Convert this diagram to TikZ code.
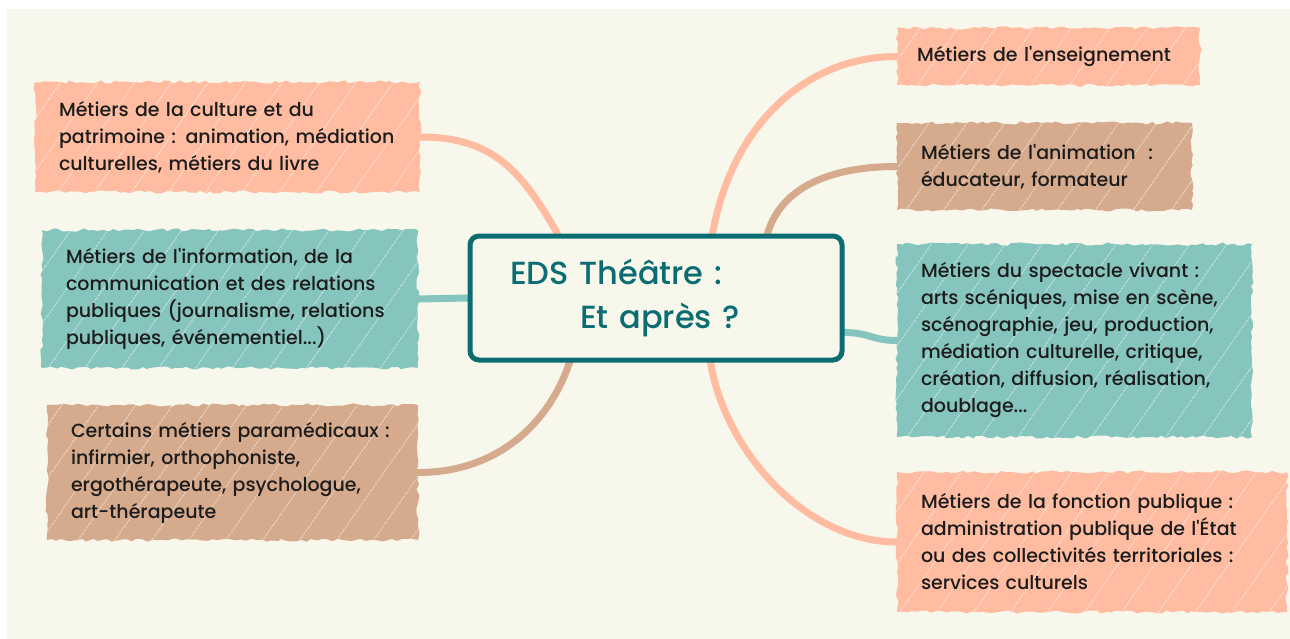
\documentclass[tikz,border=0pt]{standalone}
\usepackage{fontspec}
\setmainfont{Poppins}[UprightFont=* Medium]
\usepackage{tikz}
\usetikzlibrary{calc}
\usepackage{xcolor}
\usetikzlibrary{positioning}
\usetikzlibrary{decorations.pathmorphing,patterns.meta}
\definecolor{cream}{HTML}{F8F7EC}
\definecolor{peach}{HTML}{FFBCA0}
\definecolor{mocha}{HTML}{D6AA8C}
\definecolor{seafoam}{HTML}{86C5BE}
\definecolor{deepteal}{HTML}{0B6D72}
\definecolor{ink}{HTML}{1C1C1C}
\newcommand{\ap}{\textquotesingle}
\pgfdeclarelayer{bg}
\pgfsetlayers{bg,main}

\begin{document}
\begin{tikzpicture}[x=1pt,y=-1pt]
  \pgfmathsetseed{7}
  \tikzstyle{job box}=[rectangle,inner xsep=24pt,inner ysep=0pt,align=left,text=ink,
    font=\fontsize{19}{27}\selectfont,decorate,
    decoration={random steps,segment length=5pt,amplitude=1.6pt},
    postaction={pattern={Lines[angle=55,distance=31pt,line width=0.7pt]},pattern color=white,fill opacity=0.5}]
  \tikzstyle{link}=[line width=7pt,line cap=round]
  \tikzset{
peach box/.style={job box,fill=peach},
mocha box/.style={job box,fill=mocha},
sea box/.style={job box,fill=seafoam},
eds box/.style={rectangle,draw=deepteal,line width=5pt,rounded corners=9pt,fill=cream,
  inner xsep=40pt,text width=292pt,minimum height=124pt,align=left,text=deepteal,
  font=\fontsize{32}{44}\selectfont}
}
  \useasboundingbox (0,0) rectangle (1290,639);
  \begin{pgfonlayer}{bg}
    \fill[white] (0,0) rectangle (1290,639);
    \fill[cream] (7,9) rectangle (1290,639);
  \end{pgfonlayer}

  \node[eds box](eds) at (656,298){EDS Théâtre :\\\hspace*{70pt}Et après ?};

  \node[peach box,text width=337pt,minimum height=110pt](l1) at (227.5,137)
    {Métiers de la culture et du\\patrimoine : animation, médiation\\culturelles, métiers du livre};
  \node[sea box,text width=328pt,minimum height=138pt](l2) at (230,299)
    {Métiers de l\ap information, de la\\communication et des relations\\publiques (journalisme, relations\\publiques, événementiel...)};
  \node[mocha box,text width=323pt,minimum height=135pt](l3) at (232.5,472.5)
    {Certains métiers paramédicaux :\\infirmier, orthophoniste,\\ergothérapeute, psychologue,\\art-thérapeute};

  \node[peach box,inner xsep=20pt,text width=263pt,minimum height=57pt](r1) at (1048.5,56.5)
    {Métiers de l\ap enseignement};
  \node[mocha box,text width=247pt,minimum height=87pt](r2) at (1044.5,166.5)
    {Métiers de l\ap animation~ :\\éducateur, formateur};
  \node[sea box,text width=307pt,minimum height=193pt](r3) at (1074.5,340.5)
    {Métiers du spectacle vivant :\\arts scéniques, mise en scène,\\scénographie, jeu, production,\\médiation culturelle, critique,\\création, diffusion, réalisation,\\doublage...};
  \node[peach box,text width=342pt,minimum height=140pt](r4) at (1092,542)
    {Métiers de la fonction publique :\\administration publique de l\ap État\\ou des collectivités territoriales :\\services culturels};

  \begin{pgfonlayer}{bg}
    \draw[link,peach] (l1.east) .. controls +(75,0) and +(-35,-60) .. ([xshift=90pt]eds.north west);
    \draw[link,seafoam] (l2.east) -- (eds.west);
    \draw[link,mocha] (l3.east) .. controls +(80,0) and +(-20,60) .. ([xshift=102pt]eds.south west);
    \draw[link,peach] ([xshift=245pt]eds.north west) .. controls +(20,-110) and +(-90,0) .. (r1.west);
    \draw[link,mocha] ([xshift=300pt]eds.north west) .. controls +(15,-50) and +(-60,0) .. (r2.west);
    \draw[link,seafoam] ([yshift=-99pt]eds.north east) .. controls +(25,0) and +(-25,0) .. (r3.west);
    \draw[link,peach] ([xshift=243pt]eds.south west) .. controls +(15,90) and +(-90,0) .. (r4.west);
  \end{pgfonlayer}
\end{tikzpicture}
\end{document}
